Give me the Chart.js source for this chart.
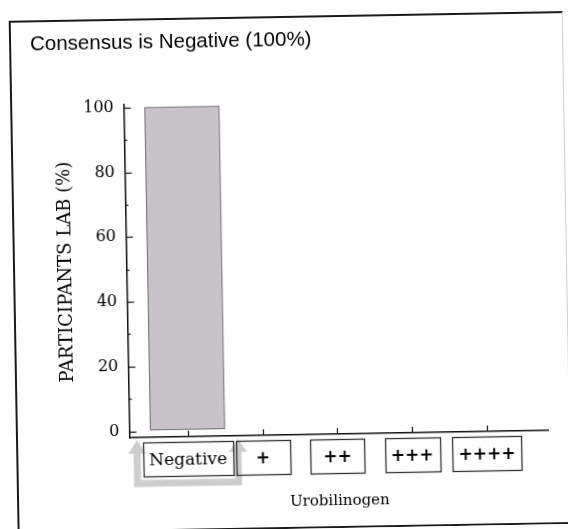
<!DOCTYPE html>
<html>
<head>
<meta charset="utf-8">
<script src="https://cdn.jsdelivr.net/npm/chart.js@4.4.1/dist/chart.umd.min.js"></script>
<style>
    html, body { margin: 0; padding: 0; background: #ffffff; overflow: hidden; }
    #wrap {
        width: 568px;
        height: 529px;
        transform: rotate(-1deg);
        transform-origin: 284px 265px;
    }
</style>
</head>
<body>
<div id="wrap"><canvas id="chart" width="568" height="529"></canvas></div>
<script>
// Data
const categories = ['Negative', '+', '++', '+++', '++++'];
const percentValues = [100, 0, 0, 0, 0];
const yTicks = [0, 10, 20, 30, 40, 50, 60, 70, 80, 90, 100];
const consensusIndex = 0;

const serif = '"DejaVu Serif", serif';

// Frame round the whole figure
const framePlugin = {
    id: 'frame',
    beforeDraw(chart) {
        const ctx = chart.ctx;
        ctx.save();
        ctx.lineWidth = 2;
        ctx.strokeStyle = '#1a1a1a';
        ctx.beginPath();
        ctx.moveTo(567, 17);
        ctx.lineTo(14, 17);
        ctx.lineTo(14, 531);
        ctx.moveTo(14, 528);
        ctx.lineTo(567, 528);
        ctx.stroke();
        ctx.strokeStyle = '#d0d0d0';
        ctx.lineWidth = 1;
        ctx.beginPath();
        ctx.moveTo(566.5, 17);
        ctx.lineTo(566.5, 528);
        ctx.stroke();
        ctx.restore();
    }
};

// Inside tick marks, the consensus marker and the boxes round the labels
const axisMarks = {
    id: 'axisMarks',
    afterDatasetsDraw(chart) {
        const ctx = chart.ctx;
        const x = chart.scales.x;
        const y = chart.scales.y;
        ctx.save();
        ctx.strokeStyle = '#111';
        ctx.lineWidth = 1.2;

        // y ticks pointing into the plot
        yTicks.forEach(v => {
            const py = Math.round(y.getPixelForValue(v)) + 0.5;
            const len = v % 20 === 0 ? 7 : 3;
            ctx.beginPath();
            ctx.moveTo(x.left, py);
            ctx.lineTo(x.left + len, py);
            ctx.stroke();
        });

        // x ticks pointing up
        categories.forEach((c, i) => {
            const px = Math.round(x.getPixelForValue(i)) + 0.5;
            ctx.beginPath();
            ctx.moveTo(px, y.bottom);
            ctx.lineTo(px, y.bottom - 6);
            ctx.stroke();
        });

        ctx.font = '17px ' + serif;
        const boxTop = x.top + 5;
        const boxH = 34;
        const boxWidth = c => Math.max(ctx.measureText(c).width + 12, 54);

        // grey bracket with arrows under the consensus label
        const cx = x.getPixelForValue(consensusIndex);
        const cw = boxWidth(categories[consensusIndex]);
        const la = cx - cw / 2 - 6;
        const ra = cx + cw / 2 + 5;
        const bandY = boxTop + boxH + 7;
        ctx.strokeStyle = '#cdcdcd';
        ctx.fillStyle = '#cdcdcd';
        ctx.lineWidth = 7;
        ctx.beginPath();
        ctx.moveTo(la, boxTop + 8);
        ctx.lineTo(la, bandY);
        ctx.lineTo(ra, bandY);
        ctx.lineTo(ra, boxTop + 8);
        ctx.stroke();
        [la, ra].forEach(ax => {
            ctx.beginPath();
            ctx.moveTo(ax - 9, boxTop + 11);
            ctx.lineTo(ax, boxTop - 2);
            ctx.lineTo(ax + 9, boxTop + 11);
            ctx.closePath();
            ctx.fill();
        });

        // boxes round labels
        ctx.strokeStyle = '#333';
        ctx.lineWidth = 1.3;
        categories.forEach((c, i) => {
            const px = x.getPixelForValue(i);
            const w = boxWidth(c);
            ctx.strokeRect(Math.round(px - w / 2) + 0.5, boxTop + 0.5, Math.round(w), boxH);
        });
        ctx.restore();
    }
};

const ctx = document.getElementById('chart').getContext('2d');

new Chart(ctx, {
    type: 'bar',
    data: {
        datasets: [{
            label: 'Participants lab (%)',
            data: percentValues.map((v, i) => ({ x: i, y: v })),
            backgroundColor: c => (c.raw && c.raw.y > 0 ? '#c8c2c9' : 'rgba(0,0,0,0)'),
            borderColor: '#5a5a5a',
            borderWidth: c => (c.raw && c.raw.y > 0 ? 1 : 0),
            borderSkipped: false,
            barPercentage: 1,
            categoryPercentage: 1
        }]
    },
    options: {
        responsive: false,
        animation: false,
        events: [],
        layout: {
            padding: { left: 34, right: 23, top: 28, bottom: 10 }
        },
        plugins: {
            legend: { display: false },
            tooltip: { enabled: false },
            title: {
                display: true,
                text: 'Consensus is Negative (100%)',
                align: 'start',
                color: '#000',
                font: { family: '"Liberation Sans", Arial, sans-serif', size: 20.5, weight: 'normal' },
                padding: { top: 0, bottom: 49 }
            }
        },
        scales: {
            x: {
                type: 'linear',
                offset: false,
                min: -0.78,
                max: 4.82,
                afterBuildTicks: scale => {
                    scale.ticks = categories.map((c, i) => ({ value: i }));
                },
                afterFit: scale => { scale.height = 84; },
                ticks: {
                    callback: v => categories[v],
                    color: '#000',
                    font: c => ({
                        family: c.index > 0 ? '"DejaVu Sans", sans-serif' : serif,
                        size: 17,
                        weight: c.index > 0 ? 'bold' : 'normal'
                    }),
                    padding: 13,
                    maxRotation: 0,
                    autoSkip: false,
                    z: 1
                },
                grid: { display: true, drawOnChartArea: false, drawTicks: false },
                border: { display: true, color: '#111', width: 1.5 },
                title: {
                    display: true,
                    text: 'Urobilinogen',
                    color: '#000',
                    font: { family: serif, size: 15 },
                    padding: { top: 0, bottom: 8 }
                }
            },
            y: {
                min: -2,
                max: 101,
                afterBuildTicks: scale => {
                    scale.ticks = yTicks.map(v => ({ value: v }));
                },
                afterFit: scale => { scale.width = 92.5; },
                ticks: {
                    callback: v => (v % 20 === 0 ? v : ''),
                    color: '#000',
                    font: { family: serif, size: 16 },
                    padding: 10
                },
                grid: { display: true, drawOnChartArea: false, drawTicks: false },
                border: { display: true, color: '#111', width: 1.5 },
                title: {
                    display: true,
                    text: 'PARTICIPANTS LAB (%)',
                    color: '#000',
                    font: { family: serif, size: 18 },
                    padding: { top: 22, bottom: 0 }
                }
            }
        }
    },
    plugins: [framePlugin, axisMarks]
});
</script>
</body>
</html>
